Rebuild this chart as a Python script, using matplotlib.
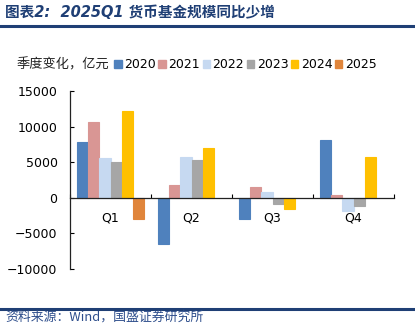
import numpy as np
import matplotlib
matplotlib.use('Agg')
import matplotlib.pyplot as plt
from matplotlib.lines import Line2D
from matplotlib.patches import Patch

plt.rcParams['font.family'] = ['DejaVu Sans', 'Noto Sans CJK SC']

quarters = ['Q1', 'Q2', 'Q3', 'Q4']
years = ['2020', '2021', '2022', '2023', '2024', '2025']
# quarterly change in money-fund size, 100m yuan
v2020 = [7800, -6500, -3000, 8100]
v2021 = [10600, 1750, 1500, 350]
v2022 = [5650, 5700, 800, -1900]
v2023 = [5000, 5300, -900, -1200]
v2024 = [12150, 7050, -1550, 5750]
v2025 = [-3000, np.nan, np.nan, np.nan]
series = [v2020, v2021, v2022, v2023, v2024, v2025]
colors = ['#4F81BD', '#D99694', '#C6D9F1', '#A6A6A6', '#FFC000', '#E0853B']

fig = plt.figure(figsize=(4.15, 3.27), dpi=100)
ax = fig.add_axes([0.1687, 0.1774, 0.7807, 0.5443])

x = np.arange(len(quarters))
w = 0.139
for i, (vals, c) in enumerate(zip(series, colors)):
    ax.bar(x + (i - 2.5) * w, vals, width=w, color=c, edgecolor=c,
           linewidth=0.8, zorder=2)

ax.set_xlim(-0.5, 3.5)
ax.set_ylim(-10000, 15000)
ax.set_yticks([-10000, -5000, 0, 5000, 10000, 15000])
ax.tick_params(axis='y', labelsize=9, direction='in', length=3, width=0.8,
               pad=9)

# category axis sits on zero, labels just under it
ax.spines['bottom'].set_position(('data', 0))
ax.spines['bottom'].set_zorder(3)
ax.spines['top'].set_visible(False)
ax.spines['right'].set_visible(False)
for s in ('left', 'bottom'):
    ax.spines[s].set_linewidth(0.9)
    ax.spines[s].set_color('#222222')
ax.set_xticks(x)
ax.set_xticklabels(quarters)
ax.tick_params(axis='x', length=0, labelsize=9, pad=10)
ax.set_xticks(np.arange(-0.5, 4, 1), minor=True)
ax.tick_params(axis='x', which='minor', direction='in', length=3, width=0.8)

# title, rules and source
fig.text(0.012, 0.962, '图表2:  2025Q1 货币基金规模同比少增', fontsize=10.5,
         fontweight='bold', style='italic', color='#1F3F75', va='center')
fig.add_artist(Line2D([0, 1], [0.922, 0.922], color='#1F3F75', linewidth=2.2))
fig.add_artist(Line2D([0, 1], [0.055, 0.055], color='#1F3F75', linewidth=2.2))
fig.text(0.012, 0.03, '资料来源：Wind，国盛证券研究所', fontsize=9.3,
         style='italic', color='#2E4E8C', va='center',
         family=['Noto Sans CJK SC', 'DejaVu Sans'])

fig.text(0.041, 0.802, '季度变化，亿元', fontsize=9.5, va='center',
         family=['Noto Sans CJK SC', 'DejaVu Sans'], color='#222222')
handles = [Patch(facecolor=c, edgecolor=c) for c in colors]
fig.legend(handles, years, ncol=6, loc='center left',
           bbox_to_anchor=(0.275, 0.802), frameon=False, fontsize=9,
           handlelength=0.6, handleheight=0.6, handletextpad=0.2,
           columnspacing=0.2, borderpad=0, borderaxespad=0)

fig.savefig('out.png', dpi=100)
